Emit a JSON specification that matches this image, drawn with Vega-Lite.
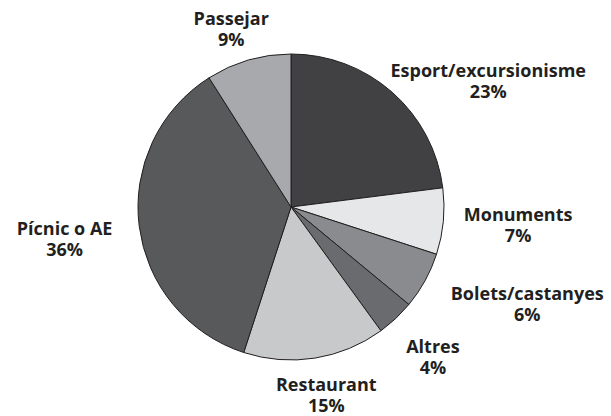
{
  "$schema": "https://vega.github.io/schema/vega-lite/v6.json",
  "autosize": "none",
  "width": 582,
  "height": 414,
  "padding": {"left": 0, "right": 29, "top": 0, "bottom": 2},
  "background": "white",
  "view": {"stroke": null},
  "data": {
    "values": [
      {"idx": 1, "cat": "Esport/excursionisme", "value": 23, "label": "Esport/excursionisme\n23%"},
      {"idx": 2, "cat": "Monuments", "value": 7, "label": "Monuments\n7%"},
      {"idx": 3, "cat": "Bolets/castanyes", "value": 6, "label": "Bolets/castanyes\n6%"},
      {"idx": 4, "cat": "Altres", "value": 4, "label": "Altres\n4%"},
      {"idx": 5, "cat": "Restaurant", "value": 15, "label": "Restaurant\n15%"},
      {"idx": 6, "cat": "Pícnic o AE", "value": 36, "label": "Pícnic o AE\n36%"},
      {"idx": 7, "cat": "Passejar", "value": 9, "label": "Passejar\n9%"}
    ]
  },
  "encoding": {
    "theta": {"field": "value", "type": "quantitative", "stack": true},
    "order": {"field": "idx", "type": "quantitative", "sort": "ascending"}
  },
  "layer": [
    {
      "mark": {"type": "arc", "outerRadius": 153, "stroke": "#231f20", "strokeWidth": 1},
      "encoding": {
        "color": {
          "field": "cat",
          "type": "nominal",
          "legend": null,
          "scale": {
            "domain": ["Esport/excursionisme", "Monuments", "Bolets/castanyes", "Altres", "Restaurant", "Pícnic o AE", "Passejar"],
            "range": ["#414042", "#e6e7e8", "#8a8b8e", "#6a6b6e", "#c8c9cb", "#58595b", "#a7a9ac"]
          }
        }
      }
    },
    {
      "mark": {
        "type": "text",
        "radius": 200,
        "font": "Open Sans",
        "fontSize": 18,
        "fontWeight": "bold",
        "color": "#231f20",
        "lineBreak": "\n",
        "lineHeight": 21,
        "align": "center",
        "baseline": "middle",
        "dx": {"expr": "datum.idx == 1 ? 65 : datum.idx == 2 ? 28 : datum.idx == 3 ? 61 : datum.idx == 4 ? 5 : datum.idx == 5 ? 4 : datum.idx == 6 ? -28 : -4"},
        "dy": {"expr": "datum.idx == 1 ? 15 : datum.idx == 2 ? -10 : datum.idx == 3 ? -8 : datum.idx == 4 ? -5 : datum.idx == 5 ? -19 : datum.idx == 6 ? -2 : 5"}
      },
      "encoding": {
        "text": {"field": "label", "type": "nominal"}
      }
    }
  ]
}
